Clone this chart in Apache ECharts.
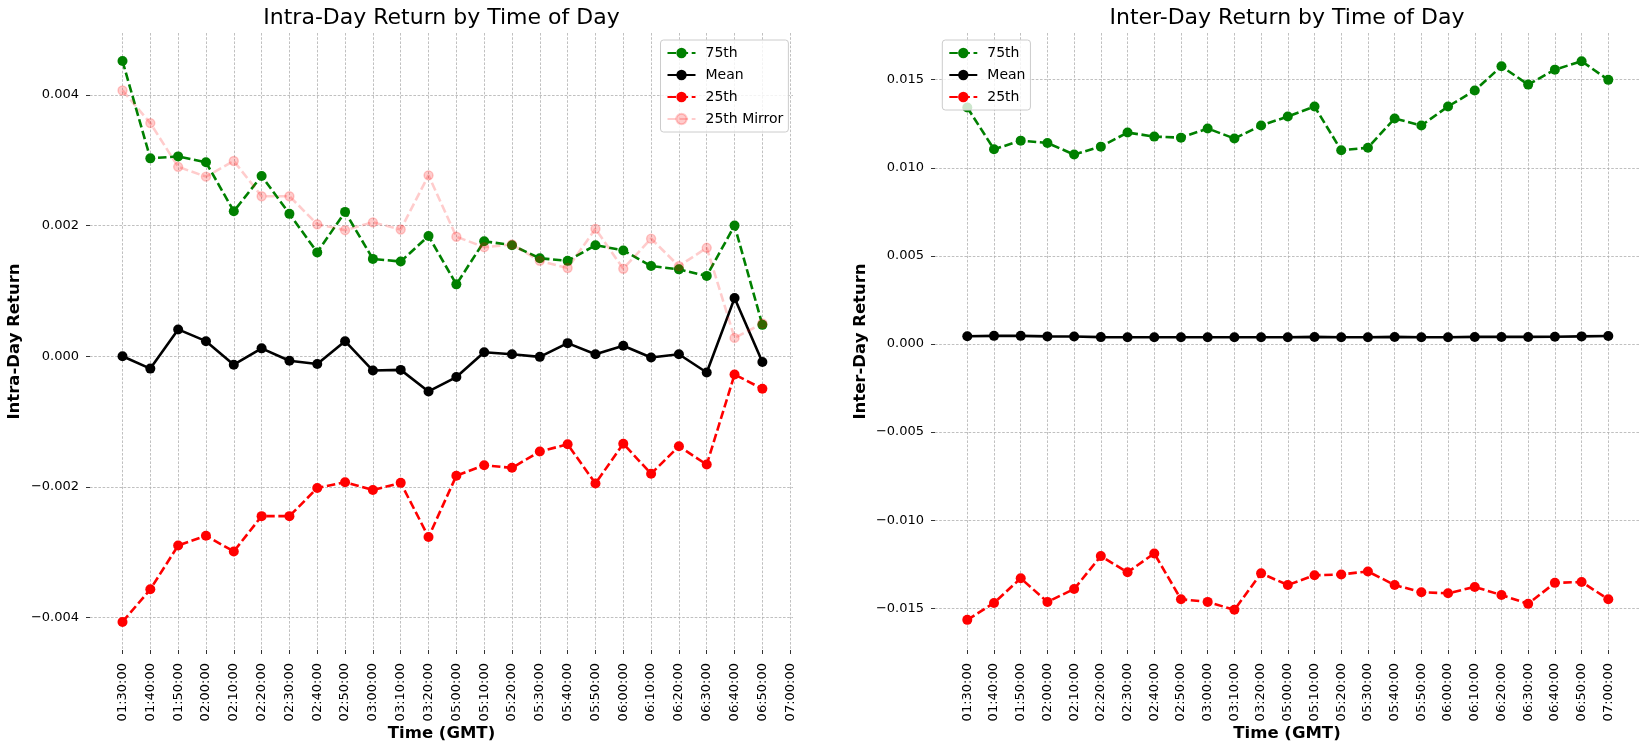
<!DOCTYPE html>
<html>
<head>
<meta charset="utf-8">
<script src="https://cdn.jsdelivr.net/npm/echarts@6/dist/echarts.min.js"></script>
<style>
html,body{margin:0;padding:0;background:#fff;}
#chart{width:1646px;height:749px;}
</style>
</head>
<body>
<div id="chart"></div>
<script>
const categories = ['01:30:00','01:40:00','01:50:00','02:00:00','02:10:00','02:20:00','02:30:00','02:40:00','02:50:00','03:00:00','03:10:00','03:20:00','05:00:00','05:10:00','05:20:00','05:30:00','05:40:00','05:50:00','06:00:00','06:10:00','06:20:00','06:30:00','06:40:00','06:50:00','07:00:00'];

const intra75 = [0.00452,0.00303,0.00306,0.00297,0.00222,0.00276,0.00218,0.00159,0.00221,0.00149,0.00145,0.00184,0.00110,0.00176,0.00170,0.00150,0.00146,0.00170,0.00162,0.00138,0.00133,0.00123,0.00200,0.00048];
const intraMean = [0.00000,-0.00019,0.00041,0.00023,-0.00013,0.00012,-0.00007,-0.00012,0.00023,-0.00022,-0.00021,-0.00054,-0.00032,0.00006,0.00003,-0.00001,0.00020,0.00003,0.00016,-0.00002,0.00003,-0.00025,0.00089,-0.00009];
const intra25 = [-0.00407,-0.00357,-0.00290,-0.00275,-0.00299,-0.00245,-0.00245,-0.00202,-0.00193,-0.00205,-0.00194,-0.00277,-0.00183,-0.00167,-0.00171,-0.00146,-0.00135,-0.00195,-0.00134,-0.00180,-0.00138,-0.00166,-0.00028,-0.00050];
const intra25Mirror = [0.00407,0.00357,0.00290,0.00275,0.00299,0.00245,0.00245,0.00202,0.00193,0.00205,0.00194,0.00277,0.00183,0.00167,0.00171,0.00146,0.00135,0.00195,0.00134,0.00180,0.00138,0.00166,0.00028,0.00050];

const inter75 = [0.01342,0.01105,0.01154,0.01141,0.01075,0.01120,0.01200,0.01177,0.01171,0.01223,0.01166,0.01240,0.01291,0.01348,0.01099,0.01114,0.01280,0.01240,0.01348,0.01439,0.01576,0.01472,0.01557,0.01605,0.01499];
const interMean = [0.00044,0.00046,0.00046,0.00043,0.00042,0.00039,0.00038,0.00038,0.00038,0.00038,0.00038,0.00038,0.00038,0.00040,0.00038,0.00038,0.00040,0.00038,0.00038,0.00040,0.00040,0.00040,0.00041,0.00043,0.00045];
const inter25 = [-0.01566,-0.01470,-0.01330,-0.01464,-0.01391,-0.01204,-0.01296,-0.01189,-0.01449,-0.01464,-0.01509,-0.01302,-0.01368,-0.01313,-0.01308,-0.01291,-0.01368,-0.01409,-0.01415,-0.01379,-0.01425,-0.01475,-0.01356,-0.01351,-0.01449];

const intraTicks = [-0.004,-0.002,0,0.002,0.004];
const interTicks = [-0.015,-0.010,-0.005,0,0.005,0.010,0.015];

const FONT = 'DejaVu Sans';
const gridLine = {show:true, lineStyle:{color:'#b0b0b0', width:0.8, type:[2.6,1.6]}};
const fmt = v => (v < -1e-12 ? '\u2212' : '') + Math.abs(v).toFixed(3);
const DASH = [8.5,3.6];

function yAxisVisible(gi, mn, mx, ticks, name, gap, split){
  return {
    gridIndex: gi, type:'value', min: mn, max: mx, splitNumber: split,
    name: name, nameLocation:'middle', nameGap: gap,
    nameTextStyle:{fontFamily:FONT, fontSize:16.5, fontWeight:'bold', color:'#000'},
    axisLine:{show:false},
    axisTick:{show:true, length:4, lineStyle:{color:'#333', width:1}, customValues: ticks},
    axisLabel:{show:true, margin:11, fontFamily:FONT, fontSize:13, color:'#000', formatter: fmt, customValues: ticks},
    splitLine: gridLine
  };
}
function yAxisHidden(gi, mn, mx){
  return {gridIndex: gi, type:'value', min: mn, max: mx, show:false,
          axisLine:{show:false, onZero:false}, axisTick:{show:false}, axisLabel:{show:false}, splitLine:{show:false}};
}
function xAxisName(gi){
  return {
    gridIndex: gi, type:'value', min:0, max:1, show:true, position:'bottom',
    name:'Time (GMT)', nameLocation:'middle', nameGap:75,
    nameTextStyle:{fontFamily:FONT, fontSize:16.5, fontWeight:'bold', color:'#000'},
    axisLine:{show:false, onZero:false}, axisTick:{show:false}, axisLabel:{show:false},
    splitLine:{show:false}, minorTick:{show:false}, minorSplitLine:{show:false}
  };
}
function xAxisCat(gi){
  return {
    gridIndex: gi, type:'category', data: categories, boundaryGap:false, position:'bottom',
    axisLine:{show:false, onZero:false},
    axisTick:{show:true, length:4, interval:0, lineStyle:{color:'#333', width:1}},
    axisLabel:{show:true, interval:0, rotate:90, margin:13, fontFamily:FONT, fontSize:13, color:'#000'},
    splitLine:{show:true, interval:0, lineStyle:{color:'#b0b0b0', width:0.8, type:[2.6,1.6]}}
  };
}
function lineSeries(name, data, xi, yi, color, dashed, extra){
  const s = {
    name: name, type:'line', data: data, xAxisIndex: xi, yAxisIndex: yi,
    symbol:'circle', symbolSize:10, showSymbol:true,
    lineStyle:{color: color, width:2.6, type: dashed ? DASH : 'solid'},
    itemStyle:{color: color},
    emphasis:{disabled:true}, z: 2
  };
  return Object.assign(s, extra || {});
}

const legendCommon = {
  orient:'vertical', padding:[6,5,6,6], itemWidth:28, itemHeight:13, itemGap:8,
  backgroundColor:'rgba(255,255,255,0.8)', borderColor:'#cccccc', borderWidth:1, borderRadius:3,
  textStyle:{fontFamily:FONT, fontSize:14, color:'#000', lineHeight:13, padding:[0,0,0,5]},
  selectedMode:false
};

const mirrorColor = 'rgba(255,0,0,0.2)';

const option = {
  animation:false,
  backgroundColor:'#ffffff',
  title:[
    {text:'Intra-Day Return by Time of Day', left:441.5, top:7, textAlign:'center', padding:0,
     textStyle:{fontFamily:FONT, fontSize:22, fontWeight:'normal', color:'#000'}},
    {text:'Inter-Day Return by Time of Day', left:1287, top:7, textAlign:'center', padding:0,
     textStyle:{fontFamily:FONT, fontSize:22, fontWeight:'normal', color:'#000'}}
  ],
  legend:[
    Object.assign({}, legendCommon, {data:['75th','Mean','25th','25th Mirror'], left:660.5, top:40}),
    Object.assign({}, legendCommon, {data:['75th','Mean','25th'], left:942.3, top:40})
  ],
  grid:[
    {left:90, right:853, top:33, bottom:99},
    {left:122.5, right:855.8, top:33, bottom:99},
    {left:935, right:7, top:33, bottom:99},
    {left:967.3, right:37.7, top:33, bottom:99}
  ],
  xAxis:[ xAxisName(0), xAxisCat(1), xAxisName(2), xAxisCat(3) ],
  yAxis:[
    yAxisVisible(0, -0.0045, 0.00495, intraTicks, 'Intra-Day Return', 67, 5),
    yAxisHidden(1, -0.0045, 0.00495),
    yAxisVisible(2, -0.01737, 0.01765, interTicks, 'Inter-Day Return', 66, 7),
    yAxisHidden(3, -0.01737, 0.01765)
  ],
  series:[
    lineSeries('75th', intra75, 1, 1, '#008000', true),
    lineSeries('Mean', intraMean, 1, 1, '#000000', false),
    lineSeries('25th', intra25, 1, 1, '#ff0000', true),
    lineSeries('25th Mirror', intra25Mirror, 1, 1, mirrorColor, true, {
      itemStyle:{color: mirrorColor, borderColor: mirrorColor, borderWidth:1.4},
      symbolSize:9
    }),
    lineSeries('75th', inter75, 3, 3, '#008000', true),
    lineSeries('Mean', interMean, 3, 3, '#000000', false),
    lineSeries('25th', inter25, 3, 3, '#ff0000', true)
  ]
};

const chart = echarts.init(document.getElementById('chart'), null, {renderer:'canvas'});
chart.setOption(option);
</script>
</body>
</html>
